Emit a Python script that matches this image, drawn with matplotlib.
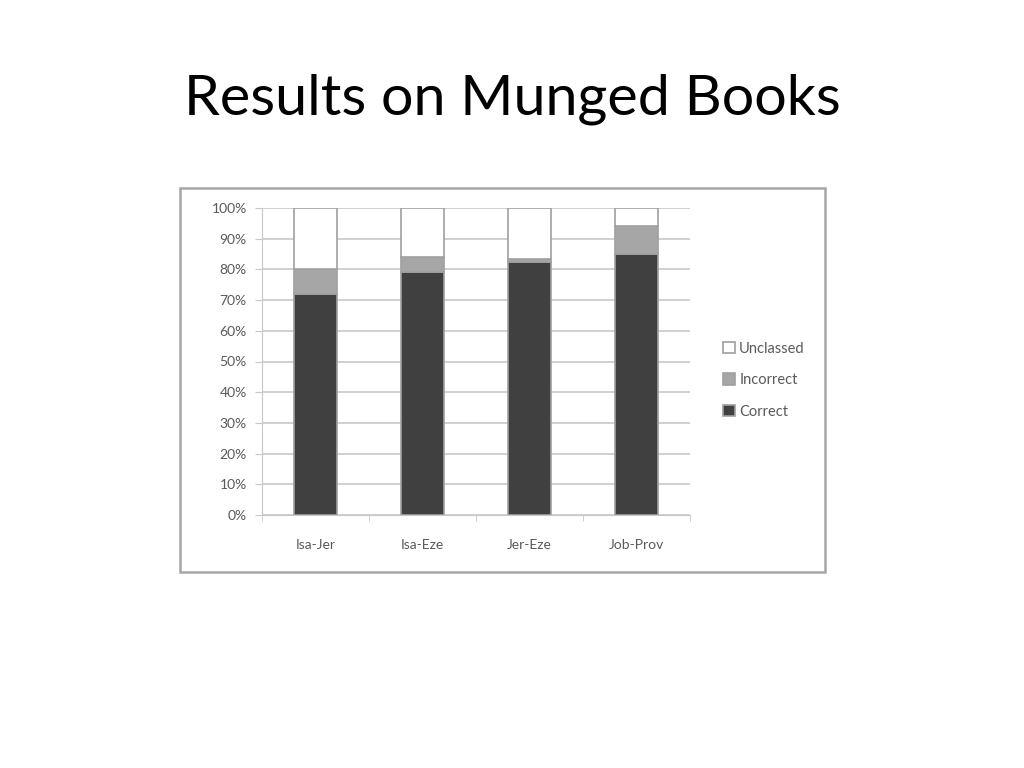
import numpy as np
import matplotlib
matplotlib.use("Agg")
import matplotlib.pyplot as plt
from matplotlib.patches import Rectangle

W, H = 1024, 768

categories = ["Isa-Jer", "Isa-Eze", "Jer-Eze", "Job-Prov"]
correct = [72, 79, 82.5, 85]
incorrect = [8, 5, 0.8, 9]
unclassed = [20, 16, 16.7, 6]

series_names = ["Correct", "Incorrect", "Unclassed"]
series_colors = ["#404040", "#a6a6a6", "#ffffff"]
ytick_values = np.arange(0, 101, 10)


def px_box(x0, y0, x1, y1):
    """Pixel box (top-left origin) -> figure fraction [left, bottom, width, height]."""
    return [x0 / W, (H - y1) / H, (x1 - x0) / W, (y1 - y0) / H]


fig = plt.figure(figsize=(W / 100, H / 100), dpi=100)
fig.patch.set_facecolor("white")

fig.text(512 / W, 1 - 99 / H, "Results on Munged Books", ha="center", va="center",
         fontsize=41.3, family=["Lato", "DejaVu Sans"], color="black")

# chart frame
fig.patches.append(Rectangle((180 / W, (H - 572) / H), 645 / W, 384 / H,
                             transform=fig.transFigure, fill=False,
                             edgecolor="#a6a6a6", linewidth=1.8))

ax = fig.add_axes(px_box(262, 208, 690, 515))
x = np.arange(len(categories))
bottom = np.zeros(len(categories))
for name, vals, color in zip(series_names, [correct, incorrect, unclassed], series_colors):
    ax.bar(x, vals, width=0.4, bottom=bottom, color=color, edgecolor="#a0a0a0",
           linewidth=1.2, label=name, zorder=3)
    bottom += np.array(vals)

ax.set_xlim(-0.5, len(categories) - 0.5)
ax.set_ylim(0, 100)
ax.set_yticks(ytick_values)
ax.set_yticklabels([f"{v}%" for v in ytick_values])
ax.set_xticks(x)
ax.set_xticklabels(categories)
ax.yaxis.grid(True, color="#c8c8c8", linewidth=1.2, zorder=0)
ax.set_axisbelow(True)
for side in ["top", "right"]:
    ax.spines[side].set_visible(False)
ax.spines["left"].set_color("#c8c8c8")
ax.spines["bottom"].set_color("#c8c8c8")
ax.tick_params(axis="y", length=5, color="#c8c8c8", labelsize=10, labelcolor="#595959", pad=6)
ax.tick_params(axis="x", length=0, labelsize=10, labelcolor="#595959", pad=17)
for lbl in ax.get_xticklabels() + ax.get_yticklabels():
    lbl.set_family(["Lato", "DejaVu Sans"])
# minor ticks between categories
ax.set_xticks(np.arange(-0.5, len(categories), 1), minor=True)
ax.tick_params(axis="x", which="minor", length=4, color="#c8c8c8")

handles, labels = ax.get_legend_handles_labels()
leg = fig.legend(handles[::-1], labels[::-1], loc="center left",
                 bbox_to_anchor=(710 / W, 1 - 380 / H), frameon=False,
                 prop={"family": ["Lato", "DejaVu Sans"], "size": 10.5},
                 handlelength=0.8, handleheight=0.8, handletextpad=0.3,
                 labelspacing=1.2, labelcolor="#595959")

fig.savefig("out.png", dpi=100, facecolor="white")
